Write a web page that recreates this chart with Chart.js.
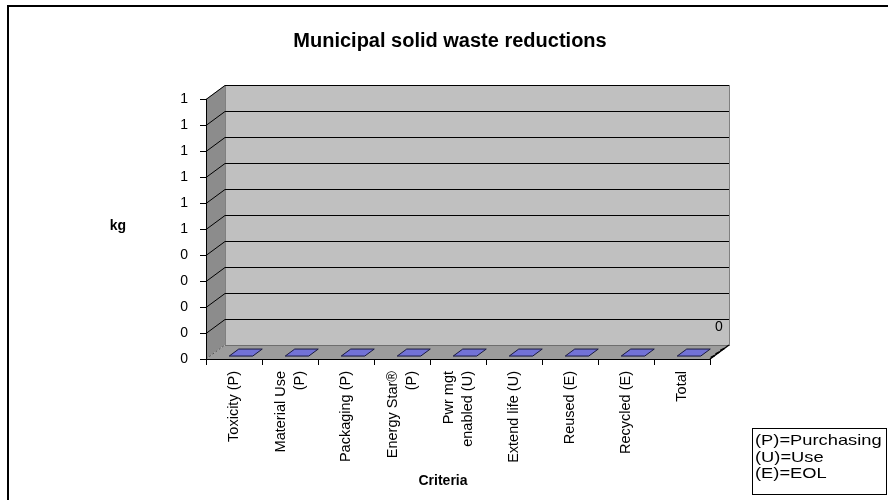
<!DOCTYPE html>
<html>
<head>
<meta charset="utf-8">
<script src="https://cdn.jsdelivr.net/npm/chart.js@4.4.1/dist/chart.umd.min.js"></script>
<style>
  body { margin: 0; background: #fff; }
  canvas { display: block; }
</style>
</head>
<body>
<canvas id="wasteChart" width="888" height="500"></canvas>
<script>
const chartTitle = "Municipal solid waste reductions"
const categories = [
    "Toxicity (P)",
    ["Material Use", "(P)"],
    "Packaging (P)",
    ["Energy Star®", "(P)"],
    ["Pwr mgt", "enabled (U)"],
    "Extend life (U)",
    "Reused (E)",
    "Recycled (E)",
    "Total"
]
const reductions = [0, 0, 0, 0, 0, 0, 0, 0, 0]
const yTicks = { min: 0, max: 1, step: 0.1 }
const legendLines = ["(P)=Purchasing", "(U)=Use", "(E)=EOL"]

const FONT = 'Arial, "Liberation Sans", sans-serif'
const depth = { dx: 19, dy: -14 }
const labelLineHeight = 19

// fake excel 3d walls, floor and flat bar tops
const walls3d = {
    id: "walls3d",
    beforeDraw(chart) {
        const ctx = chart.ctx
        const xs = chart.scales.x, ys = chart.scales.y
        const L = xs.left, R = xs.right, T = ys.top, B = ys.bottom
        const dx = depth.dx, dy = depth.dy

        // center the two line category labels on their ticks
        xs.getLabelItems().forEach(item => {
            const tr = item.options && item.options.translation
            if (tr && Array.isArray(item.label) && !item._centered) {
                tr[0] -= labelLineHeight * (item.label.length - 1) / 2
                item._centered = true
            }
        })

        ctx.save()
        // side wall
        ctx.fillStyle = "#8c8c8c"
        ctx.beginPath()
        ctx.moveTo(L, T); ctx.lineTo(L + dx, T + dy); ctx.lineTo(L + dx, B + dy); ctx.lineTo(L, B)
        ctx.closePath(); ctx.fill()
        // back wall
        ctx.fillStyle = "#c0c0c0"
        ctx.fillRect(L + dx, T + dy, R - L, B - T)
        ctx.strokeStyle = "#808080"
        ctx.lineWidth = 1
        ctx.strokeRect(L + dx + 0.5, T + dy + 0.5, R - L, B - T)
        // floor
        ctx.fillStyle = "#9c9c9c"
        ctx.beginPath()
        ctx.moveTo(L, B); ctx.lineTo(R, B); ctx.lineTo(R + dx, B + dy); ctx.lineTo(L + dx, B + dy)
        ctx.closePath(); ctx.fill()
        ctx.strokeStyle = "#6e6e6e"
        ctx.beginPath()
        ctx.moveTo(L + dx, B + dy + 0.5); ctx.lineTo(R + dx, B + dy + 0.5)
        ctx.stroke()
        // gridlines on side and back walls
        ctx.strokeStyle = "#000"
        ys.ticks.forEach(t => {
            if (t.value === 0) return
            const py = Math.round(ys.getPixelForValue(t.value)) + 0.5
            ctx.beginPath()
            ctx.moveTo(L, py)
            ctx.lineTo(L + dx, py + dy)
            ctx.lineTo(R + dx, py + dy)
            ctx.stroke()
        })
        // floor edges
        ctx.strokeStyle = "#555"
        ctx.setLineDash([2, 2])
        ctx.beginPath()
        ctx.moveTo(L, B); ctx.lineTo(L + dx, B + dy)
        ctx.stroke()
        ctx.setLineDash([])
        ctx.strokeStyle = "#000"
        ctx.lineWidth = 1.5
        ctx.beginPath()
        ctx.moveTo(R, B); ctx.lineTo(R + dx, B + dy)
        ctx.stroke()
        for (let i = 1; i < 4; i++) {
            const px = R + dx * i / 4, py = B + dy * i / 4
            ctx.beginPath()
            ctx.moveTo(px, py); ctx.lineTo(px - 4, py + 2)
            ctx.stroke()
        }
        ctx.restore()
    },
    afterDatasetsDraw(chart) {
        const ctx = chart.ctx
        const dx = depth.dx, dy = depth.dy
        const bars = chart.getDatasetMeta(0).data
        ctx.save()
        ctx.fillStyle = "#7272d6"
        ctx.strokeStyle = "#1a1a40"
        ctx.lineWidth = 1
        bars.forEach(bar => {
            const x0 = bar.x - bar.width / 2 + 3, x1 = bar.x + bar.width / 2 + 3
            const y = bar.y
            const t0 = 0.21, t1 = 0.71
            ctx.beginPath()
            ctx.moveTo(x0 + dx * t0, y + dy * t0)
            ctx.lineTo(x1 + dx * t0, y + dy * t0)
            ctx.lineTo(x1 + dx * t1, y + dy * t1)
            ctx.lineTo(x0 + dx * t1, y + dy * t1)
            ctx.closePath()
            ctx.fill()
            ctx.stroke()
        })
        // data label of the last bar
        const last = bars[bars.length - 1]
        ctx.fillStyle = "#000"
        ctx.font = "14px " + FONT
        ctx.textAlign = "center"
        ctx.textBaseline = "middle"
        ctx.fillText(String(reductions[reductions.length - 1]), last.x + 37, last.y - 32)
        ctx.restore()
    },
    afterDraw(chart) {
        const ctx = chart.ctx
        ctx.save()
        ctx.fillStyle = "#000"
        ctx.textBaseline = "middle"
        ctx.textAlign = "center"
        ctx.font = "bold 20px " + FONT
        ctx.fillText(chartTitle, 450, 41)
        ctx.font = "bold 14px " + FONT
        ctx.fillText("kg", 118, 226)
        ctx.fillText("Criteria", 443, 481)
        // legend text box
        ctx.strokeStyle = "#000"
        ctx.lineWidth = 1
        ctx.fillStyle = "#fff"
        ctx.fillRect(752, 428, 134, 66)
        ctx.strokeRect(752.5, 428.5, 134, 66)
        ctx.fillStyle = "#000"
        ctx.font = "15px " + FONT
        ctx.textAlign = "left"
        legendLines.forEach((s, i) => {
            ctx.save()
            ctx.translate(755, 441 + i * 16.5)
            ctx.scale(1.22, 1)
            ctx.fillText(s, 0, 0)
            ctx.restore()
        })
        // chart border
        ctx.lineWidth = 2
        ctx.strokeRect(8, 6, 900, 520)
        ctx.restore()
    }
}

new Chart(document.getElementById("wasteChart"), {
    type: "bar",
    data: {
        labels: categories,
        datasets: [{
            label: chartTitle,
            data: reductions,
            backgroundColor: "#7272d6",
            borderWidth: 0,
            categoryPercentage: 1,
            barPercentage: 0.42
        }]
    },
    options: {
        responsive: false,
        animation: false,
        layout: { padding: { left: 0, right: 178, top: 99, bottom: 0 } },
        scales: {
            x: {
                afterFit: s => { s.height = 141 },
                grid: { drawOnChartArea: false, color: "#000", tickLength: 6, offset: true },
                border: { color: "#000", width: 1 },
                ticks: {
                    color: "#000",
                    font: { family: FONT, size: 14.5, lineHeight: labelLineHeight + "px" },
                    minRotation: 90,
                    maxRotation: 90,
                    autoSkip: false,
                    padding: 6
                }
            },
            y: {
                min: yTicks.min,
                max: yTicks.max,
                afterFit: s => { s.width = 206 },
                grid: { drawOnChartArea: false, color: "#000", tickLength: 6 },
                border: { color: "#000", width: 1 },
                ticks: {
                    stepSize: yTicks.step,
                    color: "#000",
                    font: { family: FONT, size: 14 },
                    padding: 12,
                    callback: v => Math.round(v)
                }
            }
        },
        plugins: {
            legend: { display: false },
            tooltip: { enabled: false },
            title: { display: false }
        }
    },
    plugins: [walls3d]
})
</script>
</body>
</html>
